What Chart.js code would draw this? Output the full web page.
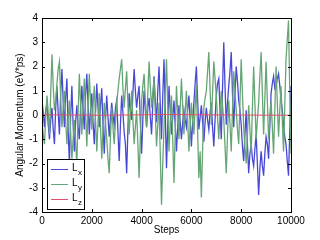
<!DOCTYPE html>
<html>
<head>
<meta charset="utf-8">
<script src="https://cdn.jsdelivr.net/npm/chart.js@4.4.1/dist/chart.umd.min.js"></script>
<style>
  html, body { margin: 0; padding: 0; background: #fff; }
  #wrap { width: 320px; height: 240px; }
</style>
</head>
<body>
<div id="wrap"><canvas id="momChart" width="320" height="240"></canvas></div>
<script>
// sample steps (x axis)
const steps = [
  0, 50, 100, 150, 200, 250, 300, 350, 400, 450, 500, 550, 600, 650, 700, 750, 800, 850, 900, 950,
  1000, 1050, 1100, 1150, 1200, 1250, 1300, 1350, 1400, 1450, 1500, 1550, 1600, 1650, 1700, 1750, 1800, 1850, 1900, 1950,
  2000, 2050, 2100, 2150, 2200, 2250, 2300, 2350, 2400, 2450, 2500, 2550, 2600, 2650, 2700, 2750, 2800, 2850, 2900, 2950,
  3000, 3050, 3100, 3150, 3200, 3250, 3300, 3350, 3400, 3450, 3500, 3550, 3600, 3650, 3700, 3750, 3800, 3850, 3900, 3950,
  4000, 4050, 4100, 4150, 4200, 4250, 4300, 4350, 4400, 4450, 4500, 4550, 4600, 4650, 4700, 4750, 4800, 4850, 4900, 4950,
  5000, 5050, 5100, 5150, 5200, 5250, 5300, 5350, 5400, 5450, 5500, 5550, 5600, 5650, 5700, 5750, 5800, 5850, 5900, 5950,
  6000, 6050, 6100, 6150, 6200, 6250, 6300, 6350, 6400, 6450, 6500, 6550, 6600, 6650, 6700, 6750, 6800, 6850, 6900, 6950,
  7000, 7050, 7100, 7150, 7200, 7250, 7300, 7350, 7400, 7450, 7500, 7550, 7600, 7650, 7700, 7750, 7800, 7850, 7900, 7950,
  8000, 8050, 8100, 8150, 8200, 8250, 8300, 8350, 8400, 8450, 8500, 8550, 8600, 8650, 8700, 8750, 8800, 8850, 8900, 8950,
  9000, 9050, 9100, 9150, 9200, 9250, 9300, 9350, 9400, 9450, 9500, 9550, 9600, 9650, 9700, 9750, 9800, 9850, 9900, 9950,
  10000
];

// angular momentum components (eV*ps)
const lx = [
  0.6, 0.1, -0.5, 0.2, 0.5, -0.4, -1.0, -0.2, 0.3, -0.6, -1.2, 0.3, 1.2, 0.1, -0.8, 0.9, 1.9, 0.6, -0.5, 0.7,
  1.5, -0.6, -2.0, -0.1, 1.2, -0.4, -1.5, -0.3, 0.4, -0.5, -1.0, 0.3, 1.2, 0.2, -0.6, 0.8, 1.7, 0.4, -0.8, 0.2,
  0.9, -0.3, -1.2, 0.1, 1.3, 0.3, -0.5, 0.4, 1.1, -0.4, -1.6, -0.2, 0.8, -0.1, -0.9, -0.1, 0.5, 0.0, -0.4, 0.3,
  0.6, -0.7, -1.9, -0.4, 0.8, 0.1, -0.7, -1.2, -2.4, -0.6, 0.9, 0.2, -0.2, 0.9, 1.9, 1.0, 0.3, 0.8, 1.2, -0.3,
  -1.6, -0.2, 1.0, 0.2, -0.5, 0.3, 0.7, -0.1, -0.8, 0.5, 1.6, 0.6, -0.3, 1.0, 2.0, 0.4, -1.0, 0.8, 2.3, 0.1,
  -2.2, -0.4, 1.2, 0.2, -0.8, -0.1, 0.6, -0.4, -1.5, -0.5, 0.4, -0.3, -1.0, -0.3, 0.2, -0.2, -0.5, 0.2, 0.8, -0.2,
  -1.3, -0.3, 0.5, 1.3, 2.0, 0.6, -0.6, -0.1, 0.4, -0.3, -1.1, -0.3, 0.3, -0.2, -0.6, 0.1, 0.5, -0.5, -1.3, -0.2,
  0.8, 1.3, 1.5, 0.2, -1.0, 1.1, 3.0, 1.2, -0.4, 0.5, 1.2, 1.8, 2.6, 0.9, -0.5, 0.8, 2.0, 1.4, 0.6, 0.2,
  -0.4, -1.3, -1.9, -0.8, 0.2, -1.2, -2.4, -1.6, -1.2, -1.8, -2.1, -1.4, -0.8, -2.0, -3.3, -2.2, -1.5, -2.1, -2.5, -1.6,
  -0.9, -1.2, -1.8, -0.4, 0.9, 1.3, 1.6, 1.1, 1.2, 1.5, 1.7, 1.2, 0.6, 0.2, -0.4, -0.9, -1.2, -1.9, -2.5, -0.7,
  1.2
];
const ly = [
  -0.3, -0.8, -1.2, -0.1, 0.8, 0.1, -0.8, 0.9, 2.5, 1.2, 0.2, 0.6, 1.3, 1.9, 2.2, 0.7, -0.5, 0.3, 1.0, -0.2,
  -1.2, -0.2, 0.6, -0.7, -1.8, -1.0, -0.2, -1.2, -2.0, 0.1, 1.7, 0.4, -0.8, 0.4, 1.5, 0.1, -1.3, 0.3, 1.7, 0.5,
  -0.6, 0.4, 1.2, -0.2, -1.5, -0.3, 0.9, -0.5, -1.8, -0.6, 0.5, -0.3, -1.0, -1.8, -2.4, -0.9, 0.3, -0.5, -1.2, -0.3,
  0.5, 1.0, 1.5, 1.9, 2.3, 1.1, 0.3, 1.1, 1.8, 0.5, -0.8, 0.2, 1.0, -0.2, -1.2, -0.5, 0.2, -1.2, -2.6, -0.9,
  0.6, 1.2, 1.7, 0.6, -0.5, 0.9, 2.2, 1.2, 0.3, 0.9, 1.5, 0.1, -1.3, -0.4, 0.5, -1.6, -3.7, -2.0, -0.5, 0.9,
  2.3, 0.4, -1.5, -0.3, 0.8, -1.0, -2.8, -0.8, 1.2, 0.1, -1.0, 0.3, 1.5, 0.4, -0.8, 0.1, 1.0, -0.2, -1.5, -0.5,
  0.5, -0.2, -0.8, 0.3, 1.2, -0.7, -2.6, -1.5, -3.4, -1.4, 0.3, 0.7, 1.0, 1.8, 2.6, 1.1, -0.4, 0.9, 2.2, 1.5,
  0.8, -0.1, -1.0, 0.1, 1.0, 0.4, -0.2, -1.3, -2.4, -0.8, 0.6, -0.4, -1.5, 0.2, 1.8, 1.0, 0.2, -0.6, -1.2, 0.5,
  2.3, 0.9, -0.5, -1.3, -2.0, -0.8, 0.4, -0.6, -1.6, 0.3, 2.0, 0.5, -1.0, -0.2, 0.5, 1.6, 2.6, 0.9, -0.8, 0.7,
  2.2, 0.6, -1.0, -0.2, 0.6, -0.5, -1.6, 0.2, 2.0, 0.5, -0.9, 0.2, 1.2, -0.2, -1.5, 0.4, 2.3, 3.1, 3.9, 1.0,
  -1.6
];
const lzSteps = [0, 2500, 5000, 7500, 10000];
const lz = [0.01, -0.01, 0.02, 0.0, -0.01];

const xTicks = [0, 2000, 4000, 6000, 8000, 10000];
const yTicks = [-4, -3, -2, -1, 0, 1, 2, 3, 4];

const blue = "#4848d6";
const green = "#66a676";
const red = "#e2506c";
const fontFam = "'Liberation Sans', Arial, sans-serif";

function pts(xs, ys) {
  return xs.map((x, i) => ({ x: x, y: ys[i] }));
}

// MATLAB style box, inward ticks and legend with subscripts
const matlabFrame = {
  id: "matlabFrame",
  afterDraw(chart) {
    const ctx = chart.ctx;
    const a = chart.chartArea;
    const xs = chart.scales.x, ys = chart.scales.y;
    ctx.save();
    ctx.strokeStyle = "#000";
    ctx.lineWidth = 1;
    ctx.strokeRect(Math.round(a.left) + 0.5, Math.round(a.top) + 0.5,
      Math.round(a.right - a.left), Math.round(a.bottom - a.top));
    ctx.beginPath();
    xTicks.forEach(v => {
      const px = Math.round(xs.getPixelForValue(v)) + 0.5;
      ctx.moveTo(px, a.bottom); ctx.lineTo(px, a.bottom - 3);
      ctx.moveTo(px, a.top); ctx.lineTo(px, a.top + 3);
    });
    yTicks.forEach(v => {
      const py = Math.round(ys.getPixelForValue(v)) + 0.5;
      ctx.moveTo(a.left, py); ctx.lineTo(a.left + 3, py);
      ctx.moveTo(a.right, py); ctx.lineTo(a.right - 3, py);
    });
    ctx.stroke();

    // legend box
    const lx0 = Math.round(a.left) + 5, ly0 = Math.round(a.bottom) - 53;
    ctx.fillStyle = "#fff";
    ctx.fillRect(lx0, ly0, 37, 50);
    ctx.strokeRect(lx0 + 0.5, ly0 + 0.5, 37, 50);
    const items = [["x", blue], ["y", green], ["z", red]];
    items.forEach((it, i) => {
      const yy = ly0 + 10 + i * 15;
      ctx.strokeStyle = it[1];
      ctx.beginPath();
      ctx.moveTo(lx0 + 4, yy + 0.5); ctx.lineTo(lx0 + 21, yy + 0.5);
      ctx.stroke();
      ctx.fillStyle = "#000";
      ctx.textBaseline = "middle";
      ctx.font = "10px " + fontFam;
      ctx.fillText("L", lx0 + 25, yy - 1);
      ctx.font = "8px " + fontFam;
      ctx.fillText(it[0], lx0 + 31, yy + 4);
    });
    ctx.restore();
  }
};

new Chart(document.getElementById("momChart").getContext("2d"), {
  type: "line",
  data: {
    datasets: [
      { label: "Lx", data: pts(steps, lx), borderColor: blue, borderWidth: 1.3, pointRadius: 0, order: 3 },
      { label: "Ly", data: pts(steps, ly), borderColor: green, borderWidth: 1.3, pointRadius: 0, order: 2 },
      { label: "Lz", data: pts(lzSteps, lz), borderColor: red, borderWidth: 1, pointRadius: 0, order: 1 }
    ]
  },
  options: {
    responsive: false,
    animation: false,
    layout: { padding: { left: 14, right: 29, top: 18, bottom: 0 } },
    plugins: { legend: { display: false }, tooltip: { enabled: false } },
    scales: {
      x: {
        type: "linear", min: 0, max: 10000,
        afterBuildTicks: s => { s.ticks = xTicks.map(v => ({ value: v })); },
        afterFit: s => { s.height = 28; },
        grid: { display: false, drawTicks: false, tickLength: 0 },
        border: { display: false },
        ticks: { color: "#000", font: { family: fontFam, size: 10 }, padding: 3, maxRotation: 0,
                 callback: v => String(v) },
        title: { display: true, text: "Steps", color: "#000", font: { family: fontFam, size: 10 }, padding: { top: 0, bottom: 4 } }
      },
      y: {
        min: -4, max: 4,
        afterBuildTicks: s => { s.ticks = yTicks.map(v => ({ value: v })); },
        afterFit: s => { s.width = 28; },
        grid: { display: false, drawTicks: false, tickLength: 0 },
        border: { display: false },
        ticks: { color: "#000", font: { family: fontFam, size: 10 }, padding: 4,
                 callback: v => String(v) },
        title: { display: true, text: "Angular Momentum (eV*ps)", color: "#000", font: { family: fontFam, size: 10 }, padding: 0 }
      }
    }
  },
  plugins: [matlabFrame]
});
</script>
</body>
</html>
